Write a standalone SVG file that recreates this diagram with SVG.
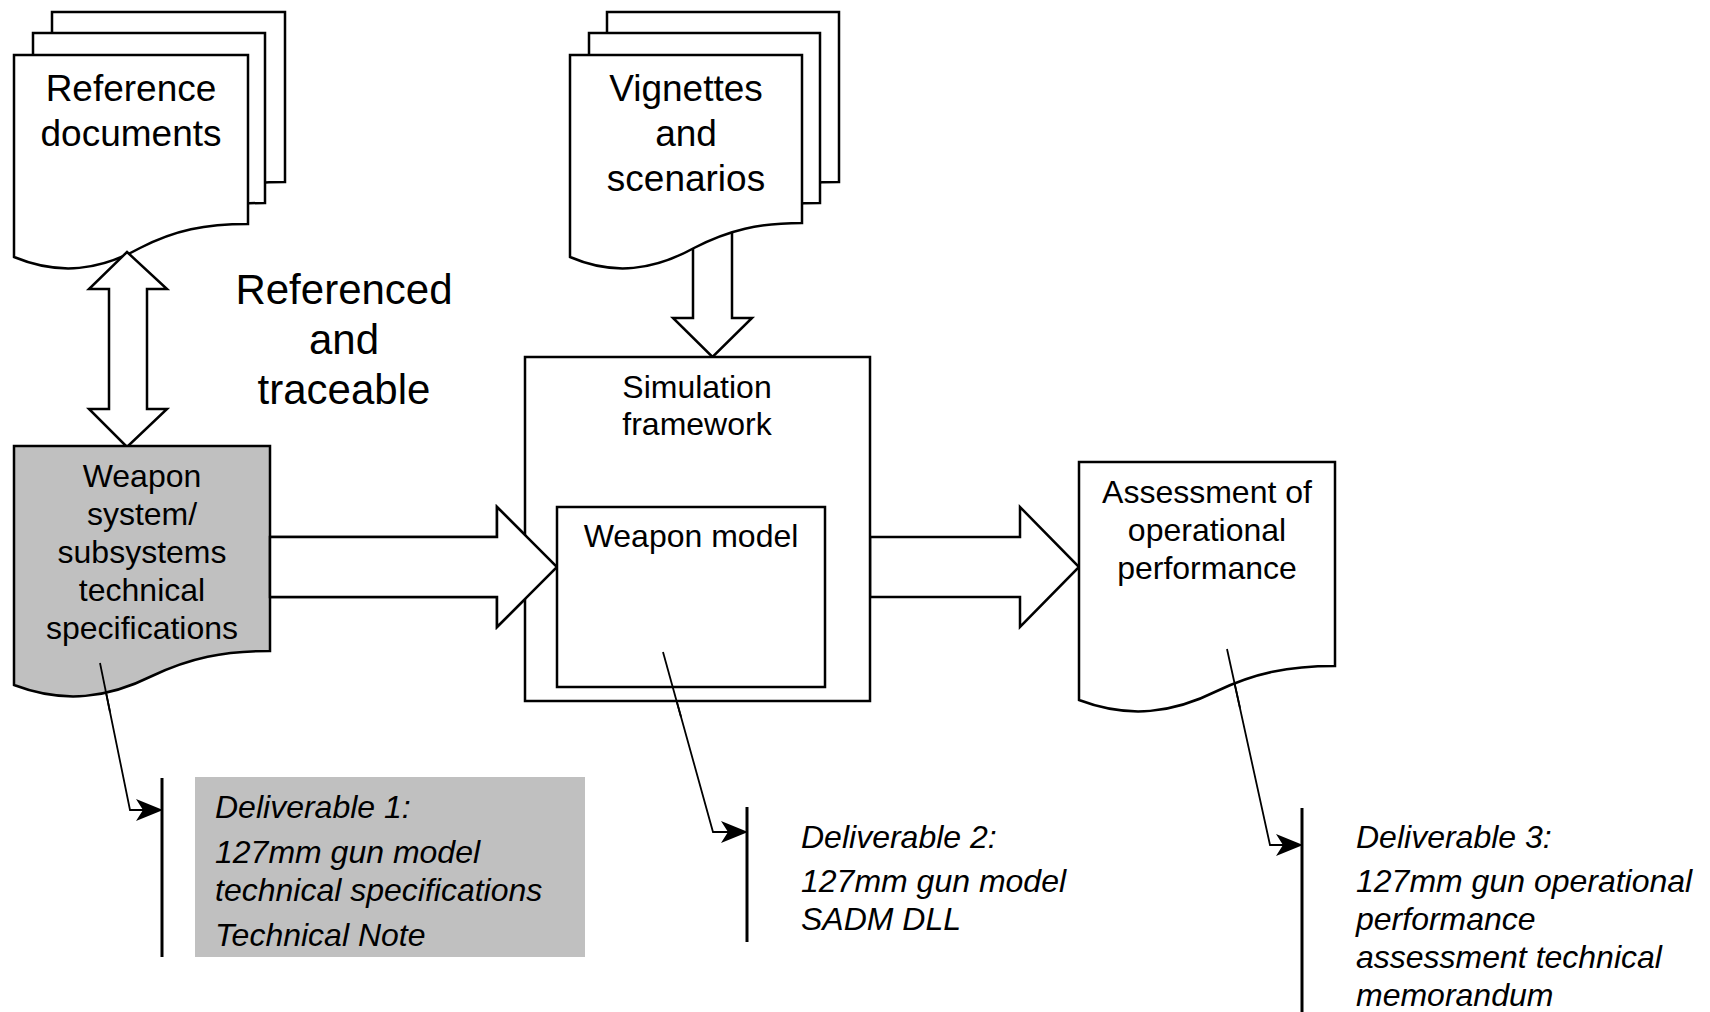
<svg xmlns="http://www.w3.org/2000/svg" width="1710" height="1012" viewBox="0 0 1710 1012">
<defs>
<style>
.s{fill:#fff;stroke:#000;stroke-width:2.5;stroke-linejoin:miter}
.g{fill:#c0c0c0;stroke:#000;stroke-width:2.5}
.t{font-family:"Liberation Sans",Arial,sans-serif;fill:#000;text-anchor:middle}
.d{font-family:"Liberation Sans",Arial,sans-serif;font-style:italic;fill:#000;font-size:32px}
.c{fill:none;stroke:#000;stroke-width:1.8}
.bar{stroke:#000;stroke-width:3}
</style>
<marker id="ah" viewBox="0 0 28 24" refX="27" refY="12" markerWidth="28" markerHeight="24" markerUnits="userSpaceOnUse" orient="auto">
<path d="M28,12 L1,1 L8,12 L1,23 Z" fill="#000"/>
</marker>
</defs>
<rect width="1710" height="1012" fill="#fff"/>

<g id="connectors">
<path id="arrow-vignettes" class="s" d="M693,230 V318 H673 L712.5,357 L752,318 H732 V230 Z"/>
<path id="arrow-spec-to-model" class="s" d="M270,537 H497 V507 L557,567 L497,627 V597 H270 Z"/>
<path id="arrow-sim-to-assess" class="s" d="M870,537 H1020 V507 L1079,567 L1020,627 V597 H870 Z"/>
<path class="c" d="M100,663 L130,810 H162" marker-end="url(#ah)"/>
<path class="c" d="M663,652 L713,832 H747" marker-end="url(#ah)"/>
<path class="c" d="M1227,649 L1270,845 H1302" marker-end="url(#ah)"/>
</g>

<g id="node-reference-documents">
<path class="s" d="M52,12 H285 V182 C239,182 206,189 168,207 C124,229 84,235 52,215 Z"/>
<path class="s" d="M33,33 H265 V203 C219,203 186,210 148,228 C105,250 65,255 33,236 Z"/>
<path class="s" d="M14,55 H248 V224 C205,224 175,230 140,248 C100,270 60,276 14,257 Z"/>
<text class="t" font-size="37" x="131" y="101">Reference</text>
<text class="t" font-size="37" x="131" y="146">documents</text>
</g>

<g id="node-vignettes">
<path class="s" d="M607,12 H839 V182 C793,182 760,189 722,207 C679,229 639,235 607,215 Z"/>
<path class="s" d="M589,33 H820 V203 C774,203 741,210 703,228 C660,250 620,255 589,236 Z"/>
<path class="s" d="M570,55 H802 V223 C759,223 729,230 694,248 C654,270 614,276 570,257 Z"/>
<text class="t" font-size="37" x="686" y="101">Vignettes</text>
<text class="t" font-size="37" x="686" y="146">and</text>
<text class="t" font-size="37" x="686" y="191">scenarios</text>
</g>

<g id="arrow-double">
<path class="s" d="M127,252 L167,289 H147 V409 H167 L127,447 L89,409 H109 V289 H89 Z"/>
</g>

<g id="label-referenced">
<text class="t" font-size="42" x="344" y="304">Referenced</text>
<text class="t" font-size="42" x="344" y="354">and</text>
<text class="t" font-size="42" x="344" y="404">traceable</text>
</g>

<g id="node-weapon-spec">
<path class="g" d="M14,446 H270 V651 C223,651 190,658 152,676 C108,698 64,704 14,685 Z"/>
<text class="t" font-size="32" x="142" y="487">Weapon</text>
<text class="t" font-size="32" x="142" y="525">system/</text>
<text class="t" font-size="32" x="142" y="563">subsystems</text>
<text class="t" font-size="32" x="142" y="601">technical</text>
<text class="t" font-size="32" x="142" y="639">specifications</text>
</g>

<g id="node-simulation">
<rect class="s" x="525" y="357" width="345" height="344"/>
<text class="t" font-size="32" x="697" y="398">Simulation</text>
<text class="t" font-size="32" x="697" y="435">framework</text>
</g>
<use href="#arrow-spec-to-model"/>

<g id="node-weapon-model">
<rect class="s" x="557" y="507" width="268" height="180"/>
<text class="t" font-size="32" x="691" y="547">Weapon model</text>
</g>
<path class="c" d="M663,652 L681,717"/>

<g id="node-assessment">
<path class="s" d="M1079,462 H1335 V666 C1288,666 1255,673 1217,691 C1173,713 1129,719 1079,700 Z"/>
<text class="t" font-size="32" x="1207" y="503">Assessment of</text>
<text class="t" font-size="32" x="1207" y="541">operational</text>
<text class="t" font-size="32" x="1207" y="579">performance</text>
</g>
<path class="c" d="M1227,649 L1240,708"/>
<path class="c" d="M100,663 L110,712"/>

<g id="node-deliverable-1">
<rect x="195" y="777" width="390" height="180" fill="#c0c0c0"/>
<line class="bar" x1="162" y1="778" x2="162" y2="957"/>
<text class="d" x="215" y="818">Deliverable 1:</text>
<text class="d" x="215" y="863">127mm gun model</text>
<text class="d" x="215" y="901">technical specifications</text>
<text class="d" x="215" y="946">Technical Note</text>
</g>

<g id="node-deliverable-2">
<line class="bar" x1="747" y1="807" x2="747" y2="942"/>
<text class="d" x="801" y="848">Deliverable 2:</text>
<text class="d" x="801" y="892">127mm gun model</text>
<text class="d" x="801" y="930">SADM DLL</text>
</g>

<g id="node-deliverable-3">
<line class="bar" x1="1302" y1="808" x2="1302" y2="1012"/>
<text class="d" x="1356" y="848">Deliverable 3:</text>
<text class="d" x="1356" y="892">127mm gun operational</text>
<text class="d" x="1356" y="930">performance</text>
<text class="d" x="1356" y="968">assessment technical</text>
<text class="d" x="1356" y="1006">memorandum</text>
</g>
</svg>
